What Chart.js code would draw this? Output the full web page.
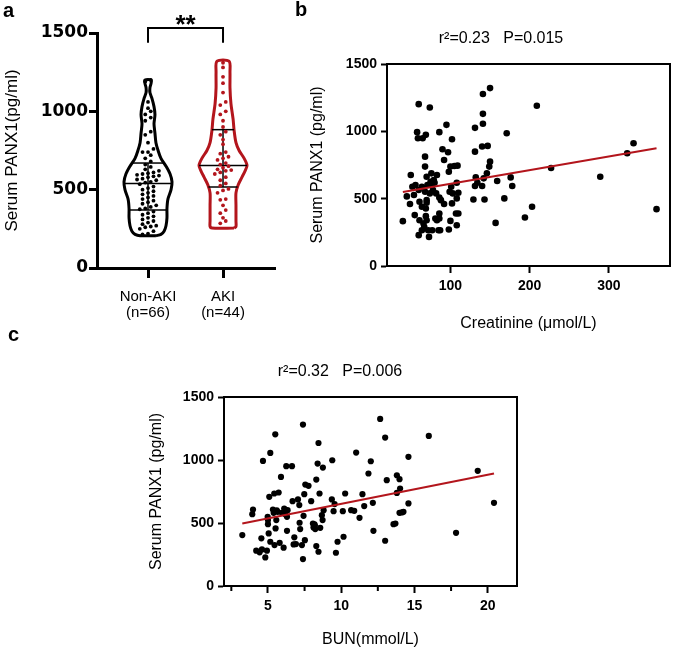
<!DOCTYPE html>
<html>
<head>
<meta charset="utf-8">
<script src="https://cdn.jsdelivr.net/npm/chart.js@4.4.0/dist/chart.umd.min.js"></script>
<style>
    body { margin: 0; background: #fff; width: 675px; height: 649px; position: relative; overflow: hidden; font-family: Arial, 'Liberation Sans', sans-serif; }
    canvas { position: absolute; }
    .panel { position: absolute; font-weight: bold; font-size: 20px; line-height: 1; }
    .note { position: absolute; font-size: 16px; line-height: 1; white-space: nowrap; transform: translate(-50%, -50%); }
</style>
</head>
<body>
<canvas id="chartA" width="280" height="330" style="left:0;top:0"></canvas>
<canvas id="chartB" width="405" height="340" style="left:270px;top:0"></canvas>
<canvas id="chartC" width="420" height="319" style="left:130px;top:330px"></canvas>
<div class="panel" style="left:3px;top:0">a</div>
<div class="panel" style="left:295px;top:-1px">b</div>
<div class="panel" style="left:8px;top:324px">c</div>
<div class="note" style="left:501px;top:38px">r²=0.23&nbsp;&nbsp;&nbsp;P=0.015</div>
<div class="note" style="left:340px;top:371px">r²=0.32&nbsp;&nbsp;&nbsp;P=0.006</div>
<script>
// ---- panel a: violin plot ----
const groupLabels = [['Non-AKI', '(n=66)'], ['AKI', '(n=44)']];
const nonAkiValues = [215, 220, 235, 250, 260, 265, 270, 280, 290, 300, 310, 320, 330, 340, 350, 360,
    375, 380, 390, 400, 410, 420, 430, 440, 450, 460, 470, 480, 490, 500, 510, 520, 535,
    545, 550, 560, 565, 570, 580, 585, 590, 595, 600, 605, 610, 620, 630, 645, 660,
    680, 700, 720, 740, 740, 760, 800, 850, 870, 940, 960, 980, 1000, 1020, 1060, 1190, 1200];
const akiValues = [285, 300, 320, 350, 370, 400, 435, 440, 480, 495, 505,
    525, 540, 560, 580, 600, 610, 620, 625, 630, 640, 650,
    660, 670, 690, 700, 710, 730, 740, 790, 820, 850, 870,
    900, 940, 980, 1000, 1040, 1060, 1120, 1180, 1220, 1280, 1310];
const nonAkiQuartiles = [370, 540, 670];
const akiQuartiles = [517, 655, 883];
// violin shape (relative density)
const nonAkiDensityAt = [206, 215, 235, 270, 320, 380, 440, 500, 550, 600, 650, 700, 750, 800, 860, 920, 980, 1030, 1080, 1120, 1150, 1180, 1200];
const nonAkiDensity = [0.33, 0.54, 0.67, 0.75, 0.79, 0.79, 0.83, 0.96, 1, 0.92, 0.75, 0.54, 0.42, 0.33, 0.29, 0.25, 0.29, 0.25, 0.17, 0.08, 0.08, 0.13, 0.13];
const akiDensityAt = [255, 265, 300, 400, 480, 530, 580, 620, 655, 700, 750, 800, 880, 950, 1050, 1150, 1250, 1320];
const akiDensity = [0.46, 0.54, 0.54, 0.54, 0.54, 0.63, 0.79, 0.92, 1, 0.88, 0.67, 0.54, 0.46, 0.42, 0.33, 0.29, 0.29, 0.25];
const yTicksA = [0, 500, 1000, 1500];

// ---- panel b: creatinine ----
const creatinine = [
    40, 45, 49, 50, 52, 55, 56, 58, 59, 60,
    60, 60, 61, 61, 64, 65, 66, 67, 68, 68,
    68, 69, 69, 69, 70, 70, 70, 71, 72, 73,
    74, 74, 75, 76, 77, 78, 79, 80, 81, 82,
    83, 85, 86, 86, 86, 87, 88, 90, 92, 92,
    95, 97, 98, 98, 99, 100, 100, 101, 102, 103,
    105, 107, 108, 108, 109, 110, 110, 129, 131, 131,
    131, 132, 134, 140, 140, 141, 141, 141, 142, 143,
    147, 146, 149, 150, 150, 159, 157, 168, 171, 176,
    178, 194, 203, 209, 227, 289, 323, 331, 360, 54,
    64, 77, 83, 108, 102, 86, 70, 64];
const panx1B = [
    333, 517, 460, 676, 589, 378, 601, 994, 949, 1202,
    229, 564, 477, 340, 589, 949, 315, 290, 738, 551,
    812, 974, 427, 370, 489, 470, 663, 601, 266, 216,
    1177, 539, 626, 688, 266, 564, 638, 618, 353, 539,
    340, 266, 509, 353, 994, 266, 489, 867, 460, 787,
    1048, 845, 700, 271, 551, 738, 335, 589, 941, 539,
    743, 390, 618, 303, 745, 390, 544, 494, 1026, 849,
    594, 658, 618, 594, 887, 1056, 1277, 1130, 651, 494,
    892, 688, 738, 1321, 775, 631, 320, 502, 986, 658,
    594, 360, 440, 1190, 728, 663, 837, 912, 422, 527,
    440, 601, 676, 502, 465, 390, 340, 266];
const fitB = [509, 1.014]; // intercept, slope
const xTicksB = [100, 200, 300];

// ---- panel c: BUN ----
const bun = [
    3.25, 3.93, 3.98, 4.2, 4.43, 4.55, 4.59, 4.66, 4.82, 4.93,
    4.98, 5, 5, 5.05, 5.09, 5.16, 5.16, 5.34, 5.39, 5.43,
    5.45, 5.5, 5.52, 5.57, 5.66, 5.73, 5.8, 5.89, 5.95, 6.07,
    6.11, 6.18, 6.25, 6.3, 6.3, 6.34, 6.64, 6.68, 6.75, 6.8,
    6.91, 7.05, 7.14, 7.16, 7.2, 7.32, 7.39, 7.39, 7.43, 7.48,
    7.52, 7.55, 7.77, 7.95, 8.07, 8.11, 8.18, 8.23, 8.3, 8.3,
    8.39, 8.45, 8.45, 8.52, 8.57, 8.68, 8.73, 8.75, 8.8, 9.36,
    9.39, 9.48, 9.55, 9.64, 9.75, 10.11, 10.16, 10.27, 10.68, 10.89,
    11.02, 11.25, 11.45, 11.57, 11.86, 12.02, 12.16, 12.2, 12.66, 13,
    13, 13.11, 13.57, 13.7, 13.8, 13.8, 13.98, 14.02, 13.98, 14.14,
    14.25, 14.59, 14.59, 15.98, 17.84, 19.32, 20.43, 5.6, 8.2, 6.2];
const panx1C = [
    404, 570, 607, 280, 267, 378, 290, 993, 227, 280,
    549, 523, 491, 417, 708, 1056, 351, 607, 581, 734,
    325, 1204, 457, 523, 589, 742, 343, 866, 581, 304,
    615, 570, 951, 438, 549, 602, 951, 673, 330, 386,
    333, 687, 642, 502, 452, 325, 1281, 214, 557, 729,
    364, 805, 795, 673, 496, 465, 489, 452, 845, 317,
    972, 1135, 272, 734, 462, 562, 523, 940, 602, 687,
    998, 594, 650, 264, 351, 594, 391, 734, 602, 597,
    1059, 541, 729, 634, 893, 990, 660, 438, 1326, 1178,
    359, 840, 491, 496, 879, 739, 848, 774, 581, 584,
    589, 1025, 655, 1191, 422, 914, 660, 600, 480, 600];
const fitC = [421, 23.1];
const xTicksC = [5, 10, 15, 20];
const xMinorC = [2.5, 7.5, 12.5, 17.5];
const yTicksBC = [0, 500, 1000, 1500];

const RED = '#b3151c';
const FONT = "Arial, 'Liberation Sans', sans-serif";
const plain = v => String(v);

// interpolate the violin width at a value
function densityAt(at, dens, v) {
    if (v <= at[0]) return dens[0];
    for (let i = 1; i < at.length; i++) {
        if (v <= at[i]) {
            const t = (v - at[i - 1]) / (at[i] - at[i - 1]);
            return dens[i - 1] + t * (dens[i] - dens[i - 1]);
        }
    }
    return dens[dens.length - 1];
}

// outline of a violin as a closed path
function violinPath(center, at, dens, half) {
    const right = at.map((v, i) => ({ x: center + dens[i] * half, y: v }));
    const left = at.map((v, i) => ({ x: center - dens[i] * half, y: v })).reverse();
    return right.concat(left, [right[0]]);
}

// put dots in rows like a beeswarm
function swarm(values, center, binSize, step) {
    const sorted = [...values].sort((a, b) => a - b);
    const rows = [];
    sorted.forEach(v => {
        const last = rows[rows.length - 1];
        if (last && v - last[0] < binSize) last.push(v);
        else rows.push([v]);
    });
    const pts = [];
    rows.forEach(r => r.forEach((v, k) => pts.push({ x: center + (k - (r.length - 1) / 2) * step, y: v })));
    return pts;
}

function lineSet(points, color, width, order) {
    return { data: points, showLine: true, borderColor: color, borderWidth: width, pointRadius: 0, clip: false, order: order };
}

const HALF = 0.32;
const datasetsA = [];
[[nonAkiValues, nonAkiQuartiles, nonAkiDensityAt, nonAkiDensity, '#000'],
 [akiValues, akiQuartiles, akiDensityAt, akiDensity, RED]].forEach((g, i) => {
    const [vals, quart, at, dens, color] = g;
    const c = i + 1;
    datasetsA.push(Object.assign(lineSet(violinPath(c, at, dens, HALF), color, 3, 3), { tension: 0.3 }));
    quart.forEach(q => {
        const w = densityAt(at, dens, q) * HALF;
        datasetsA.push(lineSet([{ x: c - w, y: q }, { x: c + w, y: q }], '#000', 1.5, 2));
    });
    datasetsA.push(lineSet([{ x: c, y: quart[0] }, { x: c, y: quart[2] }], '#000', 1.5, 2));
    datasetsA.push({ data: swarm(vals, c, 30, 0.073), pointRadius: 1.9, pointBackgroundColor: color, pointBorderWidth: 0, order: 1 });
});
// significance bracket
datasetsA.push(lineSet([{ x: 1, y: 1437 }, { x: 1, y: 1532 }, { x: 2, y: 1532 }, { x: 2, y: 1437 }], '#000', 2, 0));

const starsPlugin = {
    id: 'stars',
    afterDatasetsDraw(chart) {
        const ctx = chart.ctx;
        ctx.save();
        ctx.fillStyle = '#000';
        ctx.font = 'bold 26px ' + FONT;
        ctx.textAlign = 'center';
        ctx.textBaseline = 'alphabetic';
        ctx.fillText('**', chart.scales.x.getPixelForValue(1.5), chart.scales.y.getPixelForValue(1532) + 5);
        ctx.restore();
    }
};

const framePlugin = {
    id: 'frame',
    afterDraw(chart, args, opts) {
        const a = chart.chartArea, ctx = chart.ctx;
        ctx.save();
        ctx.strokeStyle = '#000';
        ctx.lineWidth = 2;
        ctx.strokeRect(a.left, a.top, a.right - a.left, a.bottom - a.top);
        if (opts.minor) {
            const x = chart.scales.x;
            ctx.beginPath();
            opts.minor.forEach(v => {
                const px = x.getPixelForValue(v);
                ctx.moveTo(px, a.bottom);
                ctx.lineTo(px, a.bottom + 5);
            });
            ctx.stroke();
        }
        ctx.restore();
    }
};

new Chart(document.getElementById('chartA'), {
    type: 'scatter',
    data: { datasets: datasetsA },
    plugins: [starsPlugin],
    options: {
        responsive: false,
        animation: false,
        layout: { padding: { top: 33, right: 5, left: 0, bottom: 0 } },
        plugins: { legend: { display: false }, tooltip: { enabled: false } },
        scales: {
            x: {
                type: 'linear', min: 0.32, max: 2.693,
                afterBuildTicks: s => { s.ticks = [{ value: 1 }, { value: 2 }]; },
                afterFit: s => { s.height = 62; },
                grid: { drawOnChartArea: false, tickLength: 10, tickWidth: 3, tickColor: '#000' },
                border: { color: '#000', width: 3 },
                ticks: { color: '#000', padding: 11, maxRotation: 0, autoSkip: false,
                    font: { family: FONT, size: 15, lineHeight: 1.07 },
                    callback: (v, i) => groupLabels[i] }
            },
            y: {
                min: 0, max: 1500,
                afterBuildTicks: s => { s.ticks = yTicksA.map(v => ({ value: v })); },
                afterFit: s => { s.width = 97; },
                grid: { drawOnChartArea: false, tickLength: 8, tickWidth: 3, tickColor: '#000' },
                border: { color: '#000', width: 3 },
                ticks: { color: '#000', padding: 1, callback: plain, font: { family: 'DejaVu Sans', weight: 'bold', size: 17 } },
                title: { display: true, text: 'Serum PANX1(pg/ml)', color: '#000', font: { family: FONT, size: 17 }, padding: { top: 2 } }
            }
        }
    }
});

function scatterChart(id, xs, ys, fit, opts) {
    const lo = Math.min(...xs), hi = Math.max(...xs);
    new Chart(document.getElementById(id), {
        type: 'scatter',
        data: {
            datasets: [
                { data: xs.map((x, i) => ({ x: x, y: ys[i] })), pointRadius: opts.radius, pointBackgroundColor: '#000', pointBorderWidth: 0, order: 1 },
                lineSet([{ x: lo, y: fit[0] + fit[1] * lo }, { x: hi, y: fit[0] + fit[1] * hi }], RED, 2, 0)
            ]
        },
        plugins: [framePlugin],
        options: {
            responsive: false,
            animation: false,
            layout: { padding: opts.padding },
            plugins: { legend: { display: false }, tooltip: { enabled: false }, frame: { minor: opts.minor } },
            scales: {
                x: {
                    type: 'linear', min: opts.xMin, max: opts.xMax,
                    afterBuildTicks: s => { s.ticks = opts.xTicks.map(v => ({ value: v })); },
                    afterFit: s => { s.height = opts.xHeight; },
                    grid: { drawOnChartArea: false, tickLength: 7, tickWidth: 2, tickColor: '#000' },
                    border: { color: '#000', width: 2 },
                    ticks: { color: '#000', padding: 5, callback: plain, font: { family: FONT, weight: 'bold', size: 14 } },
                    title: { display: true, text: opts.xTitle, color: '#000', font: { family: FONT, size: 16 }, padding: { bottom: opts.xTitlePad } }
                },
                y: {
                    min: 0, max: 1500,
                    afterBuildTicks: s => { s.ticks = yTicksBC.map(v => ({ value: v })); },
                    afterFit: s => { s.width = opts.yWidth; },
                    grid: { drawOnChartArea: false, tickLength: 6, tickWidth: 2, tickColor: '#000' },
                    border: { color: '#000', width: 2 },
                    ticks: { color: '#000', padding: 4, callback: plain, font: { family: FONT, weight: 'bold', size: 14 } },
                    title: { display: true, text: 'Serum PANX1 (pg/ml)', color: '#000', font: { family: FONT, size: 16 }, padding: { top: opts.yTitlePad } }
                }
            }
        }
    });
}

scatterChart('chartB', creatinine, panx1B, fitB, {
    radius: 3.3, padding: { top: 64, right: 5, left: 0, bottom: 0 },
    xMin: 20, xMax: 377, xTicks: xTicksB, xHeight: 74, xTitle: 'Creatinine (μmol/L)', xTitlePad: 7,
    yWidth: 117, yTitlePad: 38
});

scatterChart('chartC', bun, panx1C, fitC, {
    radius: 3.1, padding: { top: 67, right: 33, left: 0, bottom: 0 }, minor: xMinorC,
    xMin: 2, xMax: 22, xTicks: xTicksC, xHeight: 63, xTitle: 'BUN(mmol/L)', xTitlePad: 0,
    yWidth: 94, yTitlePad: 17
});
</script>
</body>
</html>
